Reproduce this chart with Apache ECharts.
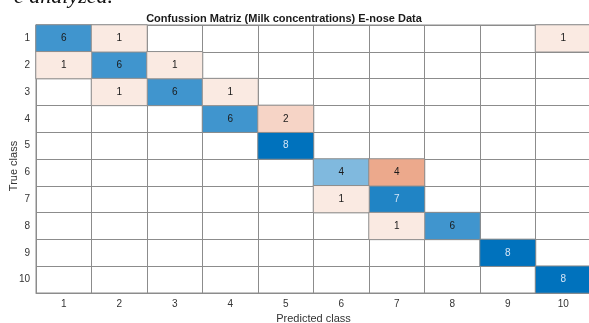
<!DOCTYPE html>
<html>
<head>
<meta charset="utf-8">
<script src="https://cdn.jsdelivr.net/npm/echarts@6/dist/echarts.min.js"></script>
<style>
html,body{margin:0;padding:0;background:#fff;}
#chart{width:589px;height:323px;}
</style>
</head>
<body>
<div id="chart"></div>
<script>
// Data
var predictedClasses = ['1','2','3','4','5','6','7','8','9','10'];
var trueClasses = ['1','2','3','4','5','6','7','8','9','10'];
// rows = true class, columns = predicted class
var row1  = [6,1,0,0,0,0,0,0,0,1];
var row2  = [1,6,1,0,0,0,0,0,0,0];
var row3  = [0,1,6,1,0,0,0,0,0,0];
var row4  = [0,0,0,6,2,0,0,0,0,0];
var row5  = [0,0,0,0,8,0,0,0,0,0];
var row6  = [0,0,0,0,0,4,4,0,0,0];
var row7  = [0,0,0,0,0,1,7,0,0,0];
var row8  = [0,0,0,0,0,0,1,6,0,0];
var row9  = [0,0,0,0,0,0,0,0,8,0];
var row10 = [0,0,0,0,0,0,0,0,0,8];
var rows = [row1,row2,row3,row4,row5,row6,row7,row8,row9,row10];

var diag = [], off = [];
rows.forEach(function(r, i){
  r.forEach(function(v, j){
    if (v === 0) return;
    var item = {value:[j, i, v]};
    if (i === j) {
      item.label = {color: v >= 7 ? '#d4e5f6' : '#1a1a1a'};
      diag.push(item);
    } else {
      item.label = {color: '#1a1a1a'};
      off.push(item);
    }
  });
});

var chart = echarts.init(document.getElementById('chart'), null, {renderer:'canvas'});
var font = 'Liberation Sans, Arial, Helvetica, sans-serif';
chart.setOption({
  animation:false,
  backgroundColor:'#fff',
  title:{
    text:'Confussion Matriz (Milk concentrations) E-nose Data',
    left:279, top:8, textAlign:'center',
    textStyle:{fontFamily:font, fontSize:11, fontWeight:'bold', color:'#1a1a1a'}
  },
  graphic:[{
    type:'text', right:476, top:-14,
    style:{text:'e analyzed.', font:'italic 22px "Liberation Serif", "Times New Roman", serif', fill:'#111'}
  }],
  grid:{left:36, top:25, width:555, height:268, containLabel:false, outerBoundsMode:'none',
        show:true, borderColor:'#8c8c8c', borderWidth:1},
  xAxis:{
    type:'category', data:predictedClasses,
    name:'Predicted class', nameLocation:'middle', nameGap:20, nameMoveOverlap:false,
    nameTextStyle:{fontFamily:font, fontSize:11, color:'#333'},
    axisLine:{show:true, lineStyle:{color:'#8c8c8c'}},
    axisTick:{show:false},
    axisLabel:{fontFamily:font, fontSize:10, color:'#333', margin:6},
    splitLine:{show:true, lineStyle:{color:'#8c8c8c', width:1}}
  },
  yAxis:{
    type:'category', data:trueClasses, inverse:true,
    name:'True class', nameLocation:'middle', nameGap:17, nameMoveOverlap:false,
    nameTextStyle:{fontFamily:font, fontSize:11, color:'#333', padding:[0,0,0,-14]},
    axisLine:{show:true, lineStyle:{color:'#8c8c8c'}},
    axisTick:{show:false},
    axisLabel:{fontFamily:font, fontSize:10, color:'#333', margin:6},
    splitLine:{show:true, lineStyle:{color:'#8c8c8c', width:1}}
  },
  visualMap:[
    {type:'continuous', seriesIndex:0, min:0, max:8, show:false, inRange:{color:['#ffffff','#0072BD']}},
    {type:'continuous', seriesIndex:1, min:0, max:8, show:false, inRange:{color:['#ffffff','#D95319']}}
  ],
  series:[
    {type:'heatmap', data:diag, label:{show:true, fontFamily:font, fontSize:10},
     itemStyle:{borderColor:'#8c8c8c', borderWidth:1}},
    {type:'heatmap', data:off, label:{show:true, fontFamily:font, fontSize:10},
     itemStyle:{borderColor:'#8c8c8c', borderWidth:1}}
  ]
});
</script>
</body>
</html>
